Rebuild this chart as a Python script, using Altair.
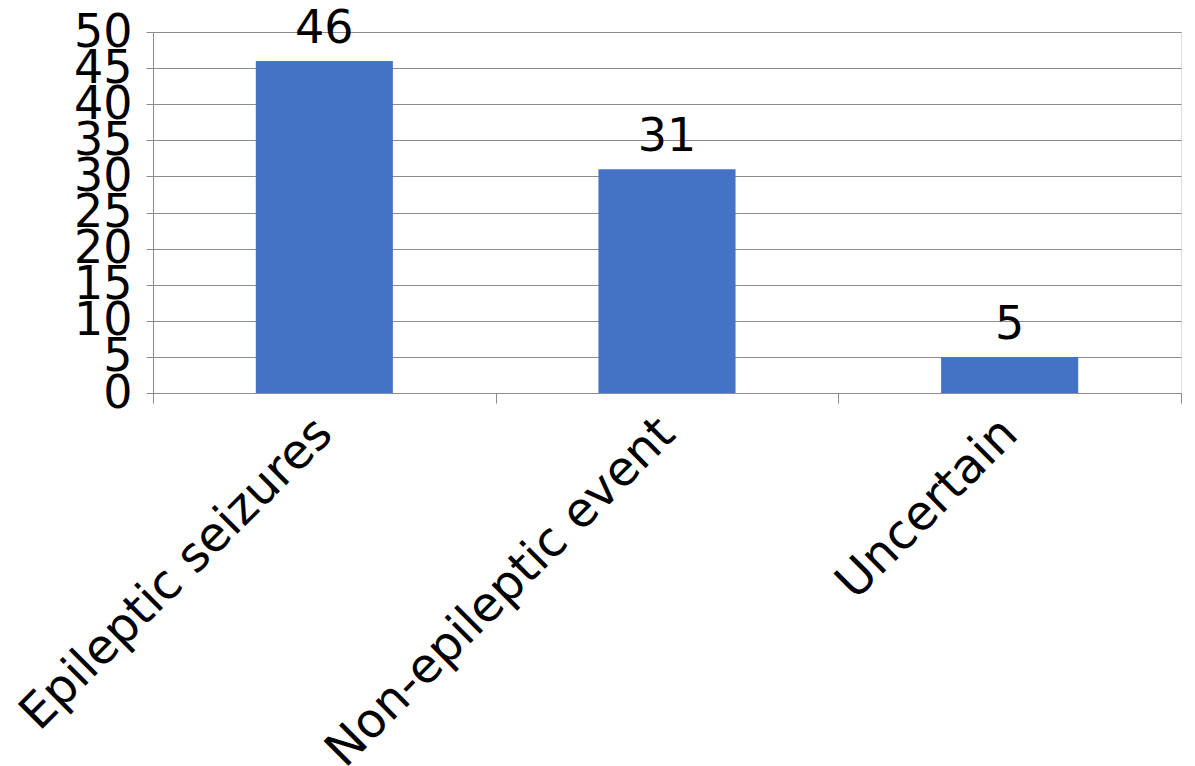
import altair as alt
import pandas as pd

categories = ["Epileptic seizures", "Non-epileptic event", "Uncertain"]
counts = [46, 31, 5]

df = pd.DataFrame({"category": categories, "count": counts})

FONT = "DejaVu Sans"
FS = 46

x = alt.X(
    "category:N",
    sort=categories,
    title=None,
    scale=alt.Scale(paddingInner=0, paddingOuter=0),
    axis=alt.Axis(
        labelAngle=-45,
        labelFontSize=48,
        labelFont=FONT,
        labelColor="black",
        labelAlign="right",
        labelBaseline="middle",
        labelPadding=23,
        tickBand="extent",
        tickSize=10,
        tickColor="#8c8c8c",
        domainColor="#8c8c8c",
        labelLimit=0,
    ),
)

y = alt.Y(
    "count:Q",
    title=None,
    scale=alt.Scale(domain=[0, 50]),
    axis=alt.Axis(
        values=list(range(0, 51, 5)),
        labelFontSize=FS,
        labelFont=FONT,
        labelColor="black",
        labelPadding=14,
        tickSize=7,
        tickColor="#8c8c8c",
        domainColor="#8c8c8c",
        gridColor="#8c8c8c",
        labelFlush=False,
        labelOverlap=False,
    ),
)

bars = alt.Chart(df).mark_bar(color="#4472C4", width=alt.RelativeBandSize(0.4)).encode(x=x, y=y)
labels = alt.Chart(df).mark_text(
    fontSize=FS, font=FONT, color="black", baseline="bottom", dy=-8
).encode(x=x, y=y, text="count:Q")

chart = (
    (bars + labels)
    .properties(
        width=1028,
        height=361,
        autosize=alt.AutoSizeParams(type="none"),
        padding={"left": 153, "top": 32, "right": 14, "bottom": 373},
    )
    .configure_view(stroke=None)
    .configure(background="white")
)

chart.save("out.html", embed_options={"renderer": "svg", "actions": False})
